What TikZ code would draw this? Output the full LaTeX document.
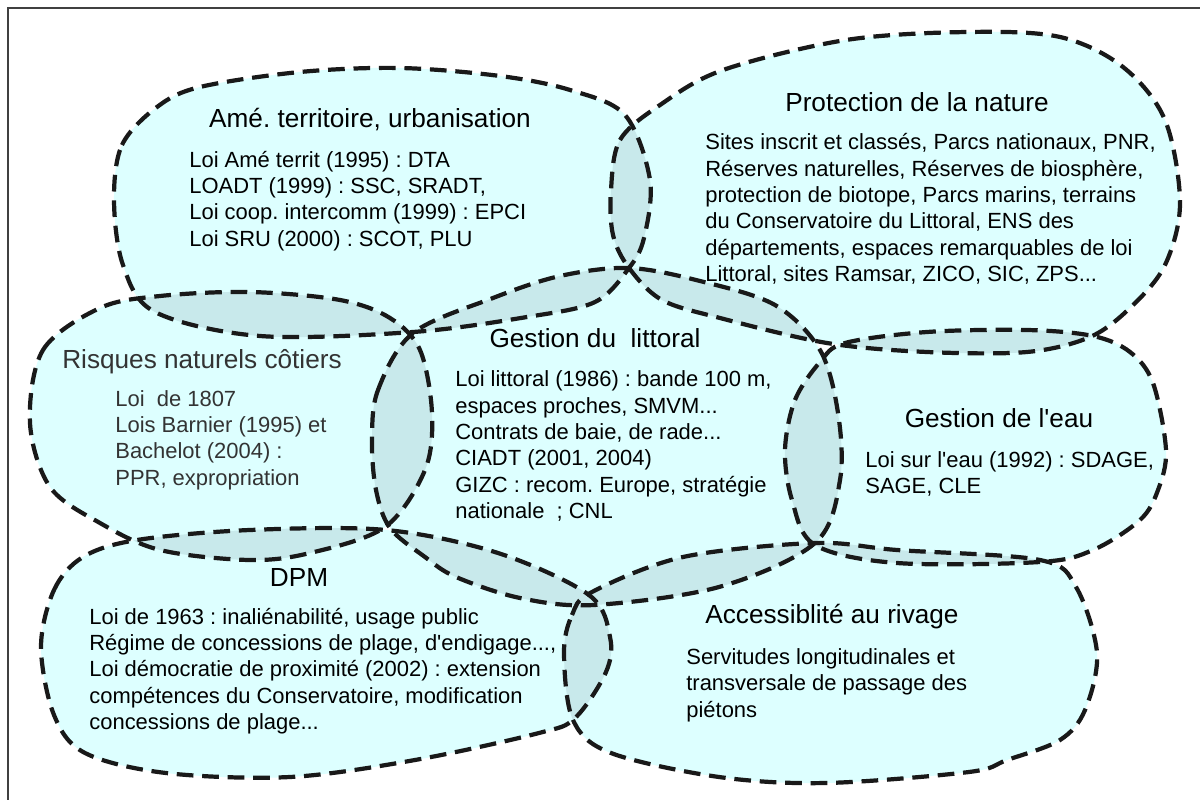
\documentclass[tikz,border=0pt]{standalone}
\usepackage{fontspec}
\setmainfont{Liberation Sans}[Ligatures=TeXOff]
\definecolor{blobfill}{HTML}{DDFFFF}
\definecolor{lensfill}{HTML}{C8E9EB}
\tikzset{
  blobline/.style={line width=2.4pt, dash pattern=on 9.5pt off 5pt, draw=black!90},
  ttl/.style={font=\fontsize{14.9}{17}\selectfont, inner sep=0pt},
  bodytext/.style={font=\fontsize{12.5}{15}\selectfont, align=left, anchor=west, inner sep=0pt},
  shapeA/.style={insert path={plot[smooth cycle, tension=0.55] coordinates {(114,200) (122,145) (157,107) (200,87) (300,72) (400,68) (500,76) (570,90) (625,115) (650,180) (644,238) (629,268) (595,302) (527,317) (413,332) (260,336) (155,312) (123,265)}}},
  shapeB/.style={insert path={plot[smooth cycle, tension=0.55] coordinates {(611,190) (620,140) (660,105) (723,70) (846,40) (968,32) (1060,37) (1123,67) (1165,120) (1180,203) (1165,265) (1131,307) (1090,337) (1027,352) (927,352) (827,343) (720,318) (662,300) (629,268) (613,235)}}},
  shapeC/.style={insert path={plot[smooth cycle, tension=0.55] coordinates {(30,423) (43,350) (100,308) (160,296) (250,292) (340,300) (390,318) (420,350) (432,413) (425,470) (385,527) (310,553) (249,560) (160,550) (100,523) (50,487)}}},
  shapeD/.style={insert path={plot[smooth cycle, tension=0.55] coordinates {(372,440) (378,390) (413,333) (493,298) (560,276) (629,268) (700,281) (775,305) (820,350) (838,413) (840,480) (815,543) (719,587) (594,605) (520,598) (456,577) (425,557) (390,528) (376,490)}}},
  shapeE/.style={insert path={plot[smooth cycle, tension=0.55] coordinates {(785,450) (795,400) (820,362) (845,343) (927,332) (1027,330) (1093,336) (1130,352) (1153,383) (1166,450) (1158,490) (1140,520) (1093,550) (1040,562) (897,563) (815,545) (792,500)}}},
  shapeF/.style={insert path={plot[smooth cycle, tension=0.55] coordinates {(41,647) (54,590) (83,557) (137,540) (250,530) (386,530) (498,553) (589,595) (610,637) (606,672) (575,718) (539,733) (415,760) (290,777) (166,773) (85,753) (54,715)}}},
  shapeG/.style={insert path={plot[smooth cycle, tension=0.55] coordinates {(564,653) (572,615) (592,592) (683,557) (815,543) (897,550) (1040,560) (1076,587) (1097,653) (1085,710) (1060,740) (1007,760) (969,772) (826,783) (719,777) (611,753) (573,720)}}},
}
\newcommand\lensfill[2]{\begin{scope}\clip[shape#1];\fill[lensfill,shape#2];\end{scope}}
\begin{document}
\frenchspacing
\begin{tikzpicture}[x=0.02cm,y=-0.02cm]
\useasboundingbox (0,0) rectangle (1200,800);
\fill[white] (0,0) rectangle (1200,800);
\draw[line width=1.2pt, black!75] (8,800) -- (8,8) -- (1200,8);
% blob fills
\fill[blobfill, shapeA];
\fill[blobfill, shapeB];
\fill[blobfill, shapeC];
\fill[blobfill, shapeD];
\fill[blobfill, shapeE];
\fill[blobfill, shapeF];
\fill[blobfill, shapeG];
% overlaps
\lensfill{A}{B}
\lensfill{A}{C}
\lensfill{A}{D}
\lensfill{B}{D}
\lensfill{B}{E}
\lensfill{C}{D}
\lensfill{C}{F}
\lensfill{D}{E}
\lensfill{D}{F}
\lensfill{D}{G}
\lensfill{E}{G}
\lensfill{F}{G}
% outlines
\draw[blobline, shapeA];
\draw[blobline, shapeB];
\draw[blobline, shapeC];
\draw[blobline, shapeD];
\draw[blobline, shapeE];
\draw[blobline, shapeF];
\draw[blobline, shapeG];
% texts
\node[ttl] (tA) at (370,120) {Amé. territoire, urbanisation};
\node[bodytext] (bA) at (189,201) {Loi Amé territ (1995) : DTA\\LOADT (1999) : SSC, SRADT,\\Loi coop. intercomm (1999) : EPCI\\Loi SRU (2000) : SCOT, PLU};
\node[ttl] (tB) at (917,102) {Protection de la nature};
\node[bodytext] (bB) at (705,209) {Sites inscrit et classés, Parcs nationaux, PNR,\\Réserves naturelles, Réserves de biosphère,\\protection de biotope, Parcs marins, terrains\\du Conservatoire du Littoral, ENS des\\départements, espaces remarquables de loi\\Littoral, sites Ramsar, ZICO, SIC, ZPS...};
\node[ttl, text=black!80] (tC) at (202,362) {Risques naturels côtiers};
\node[bodytext, text=black!80] (bC) at (115,440) {Loi\ \ de 1807\\Lois Barnier (1995) et\\Bachelot (2004) :\\PPR, expropriation};
\node[ttl] (tD) at (595,338) {Gestion du\ \ littoral};
\node[bodytext] (bD) at (455,446) {Loi littoral (1986) : bande 100 m,\\espaces proches, SMVM...\\Contrats de baie, de rade...\\CIADT (2001, 2004)\\GIZC : recom. Europe, stratégie\\nationale\ \ ; CNL};
\node[ttl] (tE) at (999,418) {Gestion de l'eau};
\node[bodytext] (bE) at (865,474) {Loi sur l'eau (1992) : SDAGE,\\SAGE, CLE};
\node[ttl] (tF) at (299,577) {DPM};
\node[bodytext] (bF) at (89,671) {Loi de 1963 : inaliénabilité, usage public\\Régime de concessions de plage, d'endigage...,\\Loi démocratie de proximité (2002) : extension\\compétences du Conservatoire, modification\\concessions de plage...};
\node[ttl] (tG) at (832,617) {Accessiblité au rivage};
\node[bodytext] (bG) at (686,685) {Servitudes longitudinales et\\transversale de passage des\\piétons};
\end{tikzpicture}
\end{document}
